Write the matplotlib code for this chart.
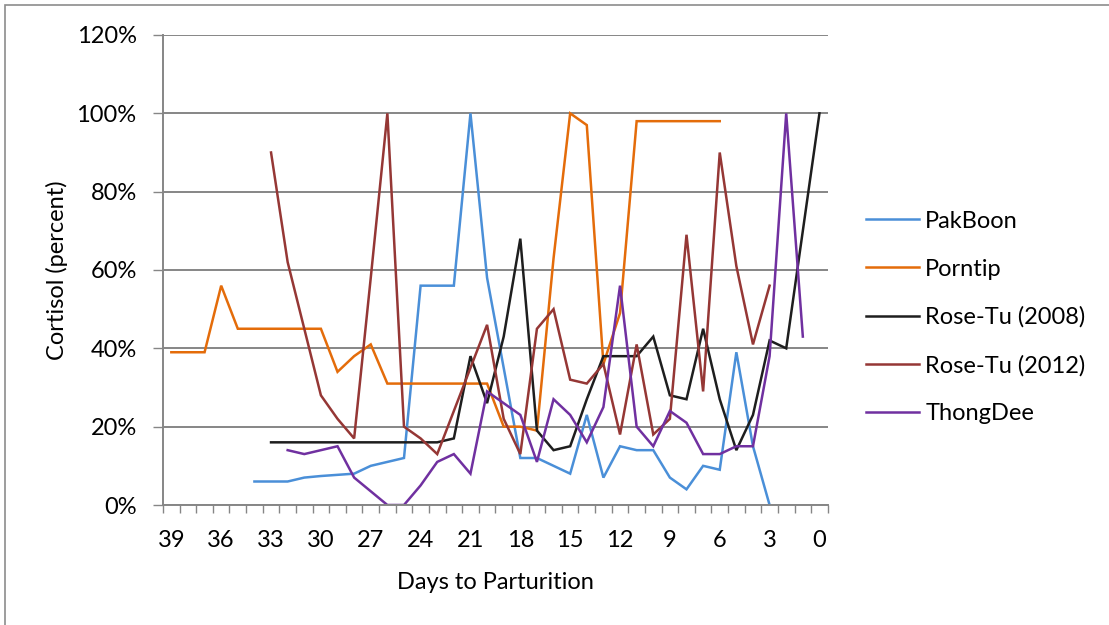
import matplotlib
matplotlib.use("Agg")
import matplotlib.pyplot as plt
import numpy as np
from matplotlib.patches import Rectangle
from matplotlib.ticker import FixedLocator, PercentFormatter

plt.rcParams["font.family"] = ["Lato", "DejaVu Sans"]

# cortisol as a fraction of each animal's peak, by days before parturition
pakboon_days = np.arange(34, 2, -1)
pakboon = [6, 6, 6, 7, 7.4, 7.7, 8, 10, 11, 12, 56, 56, 56, 100, 58, 35,
           12, 12, 10, 8, 23, 7, 15, 14, 14, 7, 4, 10, 9, 39, 15, 0]

porntip_days = np.arange(39, 5, -1)
porntip = [39, 39, 39, 56, 45, 45, 45, 45, 45, 45, 34, 38, 41, 31, 31, 31, 31,
           31, 31, 31, 20, 20, 19, 63, 100, 97, 36, 49, 98, 98, 98, 98, 98, 98]

rosetu08_days = np.arange(33, -1, -1)
rosetu08 = [16, 16, 16, 16, 16, 16, 16, 16, 16, 16, 16, 17, 38, 26, 43, 68, 19,
            14, 15, 27, 38, 38, 38, 43, 28, 27, 45, 27, 14, 23, 42, 40, 70, 100]

rosetu12_days = np.arange(33, 2, -1)
rosetu12 = [90, 62, 45, 28, 22, 17, 58, 100, 20, 17, 13, 24, 35, 46, 22, 13,
            45, 50, 32, 31, 36, 18, 41, 18, 22, 69, 29, 90, 61, 41, 56]

thongdee_days = np.arange(32, 0, -1)
thongdee = [14, 13, 14, 15, 7, 3.5, 0, 0, 5, 11, 13, 8, 29, 26, 23, 11, 27,
            23, 16, 25, 56, 20, 15, 24, 21, 13, 13, 15, 15, 38, 100, 43]

series = [
    ("PakBoon", pakboon_days, pakboon, "#4a8fd8"),
    ("Porntip", porntip_days, porntip, "#e46c0a"),
    ("Rose-Tu (2008)", rosetu08_days, rosetu08, "#1e1e1e"),
    ("Rose-Tu (2012)", rosetu12_days, rosetu12, "#953735"),
    ("ThongDee", thongdee_days, thongdee, "#7030a0"),
]

day_labels = list(range(39, -1, -3))
grid_col = "#868686"
fs = 17

fig = plt.figure(figsize=(11.09, 6.25), dpi=100)
ax = fig.add_axes([0.147, 0.192, 0.5994, 0.752])

for name, d, v, c in series:
    ax.plot(d, np.array(v) / 100, color=c, lw=1.8, label=name,
            solid_joinstyle="miter")

ax.set_xlim(39.5, -0.5)
ax.set_ylim(0, 1.2)

ax.yaxis.set_major_locator(FixedLocator(np.arange(0, 1.21, 0.2)))
ax.yaxis.set_major_formatter(PercentFormatter(1.0, decimals=0))
ax.grid(axis="y", color=grid_col, lw=1.4)
ax.set_axisbelow(True)

ax.set_xticks(day_labels)
ax.set_xticklabels([str(d) for d in day_labels])
ax.set_xticks(np.arange(39.5, -1, -1), minor=True)
ax.tick_params(axis="x", which="major", length=0, pad=18, labelsize=fs)
ax.tick_params(axis="x", which="minor", length=6, width=1, color=grid_col)
ax.tick_params(axis="y", length=7, width=1, color=grid_col, pad=12,
               labelsize=fs)

for s in ("top", "right"):
    ax.spines[s].set_visible(False)
for s in ("left", "bottom"):
    ax.spines[s].set_color(grid_col)
    ax.spines[s].set_linewidth(1.4)

ax.set_xlabel("Days to Parturition", fontsize=fs, labelpad=15)
ax.set_ylabel("Cortisol (percent)", fontsize=fs, labelpad=6)

fig.legend(loc="center left", bbox_to_anchor=(0.781, 0.492), frameon=False,
           fontsize=fs, handlelength=2.25, handletextpad=0.25,
           labelspacing=1.14, borderpad=0, borderaxespad=0)

# chart area frame (right and bottom edges fall outside the canvas)
fig.patches.append(Rectangle((5 / 1109, -0.1), 1.2, 1 - 5 / 625 + 0.1,
                             transform=fig.transFigure, fill=False,
                             edgecolor="#8c8c8c", lw=1.2))

fig.savefig("out.png", dpi=100)
